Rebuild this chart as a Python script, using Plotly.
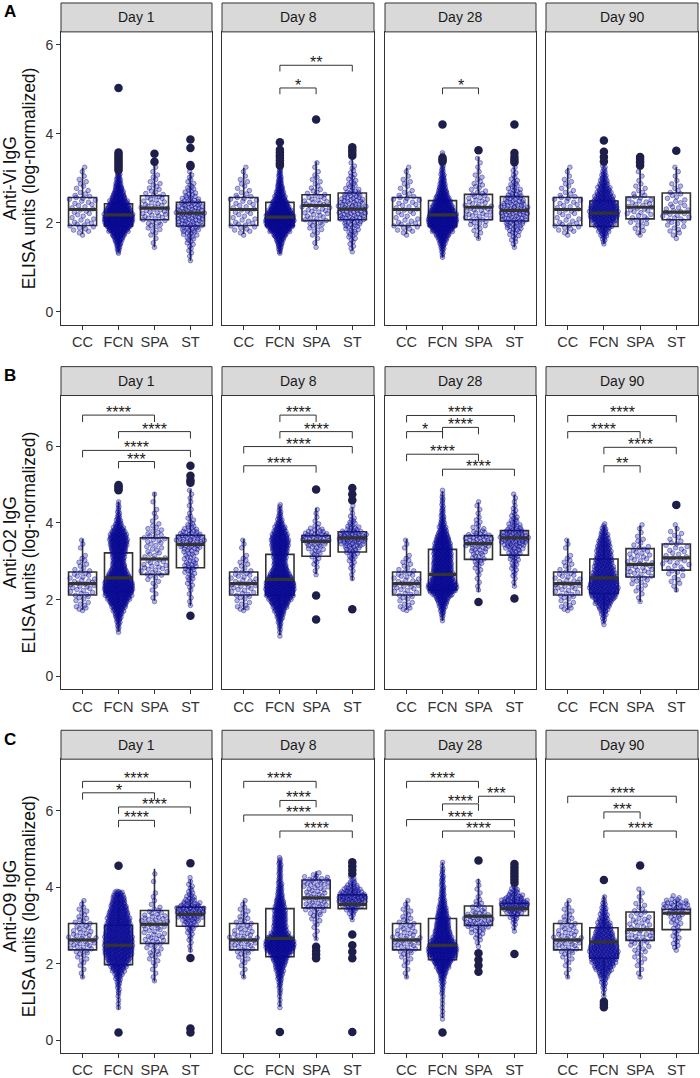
import plotly.graph_objects as go

# ------------------------------------------------------------------ data
DAYS = ["Day 1", "Day 8", "Day 28", "Day 90"]
GROUPS = ["CC", "FCN", "SPA", "ST"]
ANTIGENS = ["Anti-Vi IgG", "Anti-O2 IgG", "Anti-O9 IgG"]
TAGS = ["A", "B", "C"]
Y_TITLE2 = "ELISA units (log-normalized)"
Y_TICKS = [0, 2, 4, 6]
BIN = 0.1  # swarm values are given as point counts per 0.1-unit band

# box stats per day: (lower whisker, q1, median, q3, upper whisker)
# swarm per day: (first band start, counts per 0.1 band)
# ---- Anti-Vi
VI_CC_BOX = [(1.75, 1.94, 2.30, 2.57, 3.23)] * 4
VI_FCN_BOX = [(1.34, 1.93, 2.18, 2.43, 3.15), (1.30, 1.93, 2.13, 2.46, 3.25),
              (1.23, 1.92, 2.18, 2.50, 3.35), (1.53, 1.92, 2.22, 2.49, 3.14)]
VI_SPA_BOX = [(1.45, 2.07, 2.33, 2.61, 3.36), (1.49, 2.05, 2.39, 2.63, 3.38),
              (1.63, 2.07, 2.35, 2.64, 3.48), (1.73, 2.09, 2.35, 2.58, 3.20)]
VI_ST_BOX = [(1.15, 1.93, 2.22, 2.46, 3.14), (1.38, 2.07, 2.31, 2.67, 3.45),
             (1.45, 2.04, 2.28, 2.59, 3.30), (1.68, 2.07, 2.24, 2.67, 3.25)]
VI_CC_SWARM = [(1.7, [2, 4, 5, 4, 3, 4, 4, 4, 5, 3, 2, 2, 2, 1, 1, 1])] * 4
VI_FCN_SWARM = [
    (1.3, [3, 6, 10, 16, 24, 38, 50, 56, 56, 50, 42, 34, 26, 20, 15, 11, 8, 6, 4, 3, 3, 3, 3]),
    (1.3, [3, 6, 10, 16, 26, 42, 56, 62, 58, 48, 38, 30, 22, 16, 12, 9, 7, 5, 4, 3, 3, 3, 2]),
    (1.2, [2, 3, 6, 10, 16, 24, 38, 50, 54, 52, 46, 38, 30, 24, 18, 13, 10, 8, 6, 4, 3, 3, 2, 2]),
    (1.5, [2, 4, 8, 12, 20, 28, 34, 34, 32, 28, 22, 18, 14, 11, 8, 6, 4, 3, 2, 2, 1]),
]
VI_SPA_SWARM = [
    (1.4, [1, 1, 1, 2, 3, 4, 5, 6, 6, 6, 5, 5, 4, 3, 3, 2, 2, 1, 1, 1]),
    (1.4, [1, 1, 1, 2, 3, 4, 5, 5, 6, 6, 6, 5, 4, 3, 2, 2, 2, 1, 1, 1]),
    (1.6, [1, 2, 2, 4, 5, 6, 6, 6, 5, 5, 4, 3, 3, 2, 2, 1, 1, 1, 1]),
    (1.7, [2, 2, 3, 4, 4, 5, 5, 5, 4, 3, 2, 2, 1, 1, 1, 1]),
]
VI_ST_SWARM = [
    (1.1, [1, 1, 2, 2, 3, 4, 6, 8, 10, 11, 12, 12, 11, 9, 7, 5, 4, 3, 2, 2, 1]),
    (1.3, [1, 2, 2, 3, 4, 5, 7, 9, 11, 11, 11, 10, 9, 7, 5, 4, 3, 3, 2, 2, 1]),
    (1.4, [1, 2, 3, 4, 6, 8, 10, 11, 12, 11, 10, 8, 6, 5, 4, 3, 2, 2, 1, 1]),
    (1.6, [1, 2, 3, 3, 4, 5, 5, 4, 3, 3, 3, 2, 2, 1, 1, 1, 1]),
]
VI_CC_OUT = [[]] * 4
VI_FCN_OUT = [[3.18, 3.23, 3.28, 3.33, 3.38, 3.43, 3.48, 3.53, 3.58, 5.03],
              [3.29, 3.34, 3.40, 3.46, 3.52, 3.58, 3.64, 3.81],
              [3.38, 3.42, 3.46, 4.21],
              [3.38, 3.48, 3.60, 3.85]]
VI_SPA_OUT = [[3.37, 3.55], [4.32], [3.63], [3.29, 3.36, 3.42, 3.48]]
VI_ST_OUT = [[3.27, 3.30, 3.68, 3.87], [3.51, 3.57, 3.63, 3.70],
             [3.36, 3.42, 3.48, 3.57, 4.21], [3.62]]
VI_BRACKETS = [[],
               [("FCN", "SPA", 5.03, "*"), ("FCN", "ST", 5.54, "**")],
               [("FCN", "SPA", 5.03, "*")],
               []]

# ---- Anti-O2
O2_CC_BOX = [(1.73, 2.12, 2.42, 2.72, 3.58)] * 4
O2_FCN_BOX = [(1.17, 2.20, 2.57, 3.22, 4.56), (1.07, 2.11, 2.53, 3.18, 4.43),
              (1.45, 2.25, 2.66, 3.31, 4.82), (1.39, 2.16, 2.57, 3.06, 3.93)]
O2_SPA_BOX = [(1.97, 2.66, 3.06, 3.61, 4.80), (2.66, 3.13, 3.52, 3.67, 4.39),
              (2.20, 3.05, 3.46, 3.67, 4.54), (1.94, 2.59, 2.92, 3.33, 3.93)]
O2_ST_BOX = [(1.84, 2.83, 3.44, 3.68, 4.87), (2.50, 3.24, 3.61, 3.77, 4.40),
             (2.35, 3.16, 3.61, 3.80, 4.74), (2.20, 2.77, 3.09, 3.45, 3.91)]
O2_CC_SWARM = [(1.7, [3, 3, 2, 3, 4, 4, 5, 5, 4, 4, 3, 2, 2, 2, 1, 0, 1, 1, 1])] * 4
O2_FCN_SWARM = [
    (1.1, [1, 2, 3, 5, 8, 11, 15, 20, 26, 32, 38, 40, 40, 38, 34, 28, 22, 18, 16, 16, 17, 19,
           22, 24, 25, 24, 20, 14, 9, 6, 4, 3, 2, 2, 1]),
    (1.0, [1, 1, 2, 3, 5, 8, 11, 15, 20, 26, 32, 38, 40, 40, 38, 34, 28, 22, 18, 16, 16, 18,
           20, 22, 24, 24, 22, 18, 14, 10, 6, 4, 3, 2, 2]),
    (1.4, [1, 2, 4, 6, 9, 13, 18, 26, 40, 44, 34, 30, 28, 27, 26, 26, 25, 25, 25, 24, 22, 20,
           16, 12, 9, 7, 5, 4, 3, 3, 2, 2, 2, 1, 1]),
    (1.3, [1, 2, 3, 5, 8, 12, 17, 22, 26, 28, 28, 26, 24, 22, 20, 18, 17, 16, 15, 14, 13, 12,
           10, 8, 6, 4, 2]),
]
O2_SPA_SWARM = [
    (1.9, [1, 1, 1, 1, 1, 2, 2, 4, 5, 5, 4, 4, 3, 3, 3, 3, 4, 4, 3, 3, 2, 1, 1, 1, 1, 0, 1, 0, 1]),
    (2.6, [1, 1, 1, 2, 2, 3, 4, 5, 7, 9, 10, 8, 4, 2, 1, 1, 1, 1]),
    (2.2, [1, 1, 1, 1, 1, 2, 2, 3, 4, 4, 5, 6, 8, 9, 8, 5, 3, 2, 2, 1, 1, 1, 1, 1]),
    (1.9, [1, 1, 1, 2, 2, 3, 4, 4, 5, 5, 4, 4, 4, 4, 3, 2, 2, 1, 1, 1, 1]),
]
O2_ST_SWARM = [
    (1.8, [1, 1, 1, 1, 1, 2, 2, 3, 3, 4, 5, 5, 4, 4, 5, 7, 9, 10, 10, 7, 5, 3, 2, 2, 1, 1, 1, 1, 1, 1, 1]),
    (2.5, [1, 1, 1, 2, 2, 3, 4, 5, 7, 10, 13, 14, 10, 6, 4, 3, 2, 1, 1, 1]),
    (2.3, [1, 1, 1, 2, 2, 3, 3, 4, 5, 6, 8, 11, 13, 14, 11, 7, 5, 4, 3, 2, 2, 1, 1, 1, 1]),
    (2.2, [1, 1, 2, 2, 2, 3, 3, 4, 4, 3, 3, 3, 3, 2, 2, 2, 1, 1]),
]
O2_CC_OUT = [[]] * 4
O2_FCN_OUT = [[4.85, 4.90, 4.95, 4.99], [], [], []]
O2_SPA_OUT = [[], [4.87, 2.11, 1.48], [1.94], []]
O2_ST_OUT = [[5.05, 5.11, 5.23, 5.49, 1.58], [4.59, 4.75, 4.91, 1.75], [2.03], [4.47]]
O2_BRACKETS = [
    [("CC", "SPA", 6.81, "****"), ("FCN", "ST", 6.38, "****"),
     ("CC", "ST", 5.89, "****"), ("FCN", "SPA", 5.60, "***")],
    [("FCN", "SPA", 6.81, "****"), ("FCN", "ST", 6.38, "****"),
     ("CC", "ST", 5.99, "****"), ("CC", "SPA", 5.49, "****")],
    [("CC", "ST", 6.80, "****"), ("FCN", "SPA", 6.49, "****"), ("CC", "FCN", 6.38, "*"),
     ("CC", "SPA", 5.79, "****"), ("FCN", "ST", 5.40, "****")],
    [("CC", "ST", 6.80, "****"), ("CC", "SPA", 6.38, "****"),
     ("FCN", "ST", 5.97, "****"), ("FCN", "SPA", 5.49, "**")],
]

# ---- Anti-O9
O9_CC_BOX = [(1.62, 2.36, 2.62, 3.05, 3.65)] * 4
O9_FCN_BOX = [(0.80, 1.97, 2.48, 3.00, 3.78), (0.87, 2.18, 2.66, 3.44, 4.70),
              (0.58, 2.10, 2.48, 3.18, 4.65), (1.14, 2.14, 2.57, 2.94, 3.78)]
O9_SPA_BOX = [(1.53, 2.53, 3.03, 3.39, 4.48), (2.62, 3.46, 3.72, 4.19, 4.42),
              (2.48, 3.00, 3.24, 3.51, 4.22), (1.66, 2.61, 2.89, 3.35, 3.91)]
O9_ST_BOX = [(2.30, 2.98, 3.29, 3.48, 4.19), (3.14, 3.44, 3.55, 3.80, 4.13),
             (2.87, 3.26, 3.44, 3.58, 4.09), (2.38, 2.89, 3.32, 3.42, 3.65)]
O9_CC_SWARM = [(1.6, [1, 1, 1, 1, 2, 2, 3, 4, 5, 6, 6, 5, 4, 4, 3, 3, 2, 2, 2, 1, 1])] * 4
O9_FCN_SWARM = [
    (0.8, [1, 1, 1, 1, 2, 2, 3, 4, 6, 9, 13, 18, 22, 26, 28, 30, 30, 30, 29, 28, 27, 26, 25,
           24, 22, 20, 18, 16, 14, 12, 10]),
    (0.8, [1, 1, 1, 1, 2, 2, 3, 4, 6, 8, 10, 13, 16, 20, 26, 36, 40, 40, 36, 22, 18, 17, 16,
           16, 16, 15, 14, 12, 10, 8, 6, 6, 5, 4, 3, 3, 3, 3, 3, 2]),
    (0.5, [1, 1, 1, 1, 1, 1, 1, 2, 2, 3, 4, 6, 9, 13, 18, 24, 30, 36, 40, 38, 32, 26, 22, 20,
           18, 17, 16, 14, 12, 10, 8, 6, 5, 4, 4, 3, 3, 3, 2, 2, 1, 1]),
    (1.1, [1, 1, 2, 3, 4, 6, 9, 13, 17, 20, 22, 24, 24, 22, 20, 18, 16, 14, 12, 10, 8, 6, 5,
           4, 3, 2, 1]),
]
O9_SPA_SWARM = [
    (1.5, [1, 1, 1, 1, 1, 2, 2, 3, 3, 3, 4, 5, 4, 4, 5, 6, 6, 5, 4, 2, 1, 1, 1, 1, 0, 0, 1, 0, 1, 0]),
    (2.6, [1, 1, 1, 1, 2, 2, 3, 4, 5, 6, 5, 5, 5, 5, 6, 7, 6, 2]),
    (2.4, [1, 1, 2, 3, 4, 6, 8, 8, 7, 5, 3, 3, 2, 1, 1, 1, 1, 1]),
    (1.6, [1, 1, 1, 1, 2, 2, 2, 3, 3, 4, 5, 5, 4, 4, 4, 4, 3, 3, 2, 2, 1, 1, 1, 1]),
]
O9_ST_SWARM = [
    (2.3, [1, 1, 1, 2, 2, 3, 4, 6, 9, 12, 14, 14, 10, 6, 4, 3, 2, 2, 1, 1]),
    (3.1, [1, 2, 4, 7, 12, 16, 18, 14, 10, 6, 4, 2]),
    (2.8, [1, 1, 2, 3, 5, 9, 14, 18, 16, 10, 6, 4, 2, 1]),
    (2.3, [1, 2, 2, 2, 2, 2, 2, 3, 3, 4, 5, 7, 9, 6, 2]),
]
O9_CC_OUT = [[]] * 4
O9_FCN_OUT = [[4.56, 0.20], [0.21], [0.20], [4.19, 1.00, 0.93, 0.86]]
O9_SPA_OUT = [[], [2.44, 2.34, 2.24, 2.14], [4.70, 2.27, 2.10, 1.95, 1.79], [4.57]]
O9_ST_OUT = [[4.63, 2.15, 0.30, 0.20],
             [4.65, 4.55, 4.45, 4.35, 2.76, 2.48, 2.31, 2.14, 0.21],
             [4.61, 4.52, 4.44, 4.36, 4.28, 4.20, 4.12, 2.25], []]
O9_BRACKETS = [
    [("CC", "ST", 6.77, "****"), ("CC", "SPA", 6.47, "*"),
     ("FCN", "ST", 6.10, "****"), ("FCN", "SPA", 5.75, "****")],
    [("CC", "SPA", 6.77, "****"), ("FCN", "SPA", 6.27, "****"),
     ("CC", "ST", 5.89, "****"), ("FCN", "ST", 5.47, "****")],
    [("CC", "SPA", 6.77, "****"), ("SPA", "ST", 6.38, "***"), ("FCN", "SPA", 6.18, "****"),
     ("CC", "ST", 5.77, "****"), ("FCN", "ST", 5.47, "****")],
    [("CC", "ST", 6.38, "****"), ("FCN", "SPA", 5.97, "***"), ("FCN", "ST", 5.47, "****")],
]

ROWS = [
    dict(box=[VI_CC_BOX, VI_FCN_BOX, VI_SPA_BOX, VI_ST_BOX],
         swarm=[VI_CC_SWARM, VI_FCN_SWARM, VI_SPA_SWARM, VI_ST_SWARM],
         out=[VI_CC_OUT, VI_FCN_OUT, VI_SPA_OUT, VI_ST_OUT], br=VI_BRACKETS),
    dict(box=[O2_CC_BOX, O2_FCN_BOX, O2_SPA_BOX, O2_ST_BOX],
         swarm=[O2_CC_SWARM, O2_FCN_SWARM, O2_SPA_SWARM, O2_ST_SWARM],
         out=[O2_CC_OUT, O2_FCN_OUT, O2_SPA_OUT, O2_ST_OUT], br=O2_BRACKETS),
    dict(box=[O9_CC_BOX, O9_FCN_BOX, O9_SPA_BOX, O9_ST_BOX],
         swarm=[O9_CC_SWARM, O9_FCN_SWARM, O9_SPA_SWARM, O9_ST_SWARM],
         out=[O9_CC_OUT, O9_FCN_OUT, O9_SPA_OUT, O9_ST_OUT], br=O9_BRACKETS),
]

# ------------------------------------------------------------------ layout constants
W, H = 700, 1078
COL_PX = [(61, 212), (222, 374), (385, 536), (546, 698)]
ROW_PX = [(3, 32, 326), (368, 397, 692), (733, 762, 1057)]  # strip top, panel top, panel bottom
Y_RANGE = [(-0.29, 6.29), (-0.34, 7.32), (-0.34, 7.35)]
TIP = [0.14, 0.18, 0.18]
BOX_W = 0.78
SWARM_HALF = 0.4
FONT = "Liberation Sans, Arial, sans-serif"
INK = "#333333"
POS = {g: i + 1 for i, g in enumerate(GROUPS)}


def vdc(n, base=2):
    v, denom = 0.0, 1.0
    while n:
        denom *= base
        n, r = divmod(n, base)
        v += r / denom
    return v


def swarm_xy(start, counts, pos):
    """quasirandom (van der Corput) layout of the counted points, width ~ local density"""
    pad = [0] + list(counts) + [0]
    dens = [(pad[i] + 2 * pad[i + 1] + pad[i + 2]) / 4 for i in range(len(counts))]
    dmax = max(dens) or 1
    xs, ys, rank = [], [], 0
    for i, n in enumerate(counts):
        lo = start + i * BIN
        for k in range(n):
            rank += 1
            ys.append(lo + (k + 0.5) / n * BIN)
            xs.append(pos + (vdc(rank) - 0.5) * 2 * SWARM_HALF * dens[i] / dmax)
    return xs, ys


fig = go.Figure()
annotations, shapes = [], []

for r, row in enumerate(ROWS):
    st_top, p_top, p_bot = ROW_PX[r]
    for c in range(4):
        idx = r * 4 + c + 1
        sfx = "" if idx == 1 else str(idx)
        xr, yr = "x" + sfx, "y" + sfx
        x0, x1 = COL_PX[c]

        # swarm
        sx, sy = [], []
        for g in range(4):
            start, counts = row["swarm"][g][c]
            xs, ys = swarm_xy(start, counts, POS[GROUPS[g]])
            sx += xs
            sy += ys
        fig.add_trace(go.Scatter(
            x=sx, y=sy, mode="markers", xaxis=xr, yaxis=yr, hoverinfo="skip", showlegend=False,
            marker=dict(size=4.6, color="rgba(30,30,175,0.33)",
                        line=dict(width=0.7, color="rgba(0,0,130,0.55)"))))

        # boxes
        stats = [row["box"][g][c] for g in range(4)]
        fig.add_trace(go.Box(
            x=[POS[g] for g in GROUPS], lowerfence=[s[0] for s in stats], q1=[s[1] for s in stats],
            median=[s[2] for s in stats], q3=[s[3] for s in stats], upperfence=[s[4] for s in stats],
            width=BOX_W, whiskerwidth=0, boxpoints=False, fillcolor="rgba(0,0,0,0)",
            line=dict(color=INK, width=1.6), xaxis=xr, yaxis=yr, hoverinfo="skip", showlegend=False))
        mx, my = [], []
        for g, s in zip(GROUPS, stats):
            mx += [POS[g] - BOX_W / 2, POS[g] + BOX_W / 2, None]
            my += [s[2], s[2], None]
        fig.add_trace(go.Scatter(x=mx, y=my, mode="lines", line=dict(color=INK, width=3.2),
                                 xaxis=xr, yaxis=yr, hoverinfo="skip", showlegend=False))

        # outliers
        ox, oy = [], []
        for g in range(4):
            for v in row["out"][g][c]:
                ox.append(POS[GROUPS[g]])
                oy.append(v)
        if ox:
            fig.add_trace(go.Scatter(x=ox, y=oy, mode="markers", xaxis=xr, yaxis=yr,
                                     hoverinfo="skip", showlegend=False,
                                     marker=dict(size=8.5, color="rgb(30,30,75)")))

        # significance brackets
        bx, by = [], []
        for g1, g2, yv, lab in row["br"][c]:
            p1, p2 = POS[g1], POS[g2]
            bx += [p1, p1, p2, p2, None]
            by += [yv - TIP[r], yv, yv, yv - TIP[r], None]
            annotations.append(dict(x=(p1 + p2) / 2, y=yv, xref=xr, yref=yr, text=lab,
                                    showarrow=False, yanchor="bottom", yshift=-8,
                                    font=dict(family=FONT, size=16, color="#1a1a1a")))
        if bx:
            fig.add_trace(go.Scatter(x=bx, y=by, mode="lines", line=dict(color=INK, width=1),
                                     xaxis=xr, yaxis=yr, hoverinfo="skip", showlegend=False))

        # axes
        fig.layout["xaxis" + sfx] = dict(
            domain=[x0 / W, x1 / W], anchor=yr, range=[0.4, 4.6], tickvals=[1, 2, 3, 4],
            ticktext=GROUPS, ticks="outside", ticklen=4, tickcolor=INK, showline=True,
            mirror=True, linecolor=INK, linewidth=1, showgrid=False, zeroline=False,
            tickfont=dict(family=FONT, size=14.5, color="#333333"), fixedrange=True)
        fig.layout["yaxis" + sfx] = dict(
            domain=[1 - p_bot / H, 1 - p_top / H], anchor=xr, range=list(Y_RANGE[r]),
            tickvals=Y_TICKS, showticklabels=(c == 0), ticks="outside" if c == 0 else "",
            ticklen=4, tickcolor=INK, showline=True, mirror=True, linecolor=INK, linewidth=1,
            showgrid=False, zeroline=False,
            tickfont=dict(family=FONT, size=14, color="#333333"), fixedrange=True)

        # strip
        shapes.append(dict(type="rect", xref="paper", yref="paper", x0=x0 / W, x1=x1 / W,
                           y0=1 - p_top / H, y1=1 - st_top / H, fillcolor="#d9d9d9",
                           line=dict(color=INK, width=1), layer="above"))
        annotations.append(dict(x=(x0 + x1) / 2 / W, y=1 - (st_top + p_top) / 2 / H,
                                xref="paper", yref="paper", text=DAYS[c], showarrow=False,
                                xanchor="center", yanchor="middle",
                                font=dict(family=FONT, size=14, color="#1a1a1a")))

    # row titles and tag
    yc = 1 - (p_top + p_bot) / 2 / H
    annotations.append(dict(x=10 / W, y=yc, xref="paper", yref="paper", text=ANTIGENS[r],
                            textangle=-90, showarrow=False, xanchor="center", yanchor="middle",
                            font=dict(family=FONT, size=17.5, color="#111111")))
    annotations.append(dict(x=29 / W, y=yc, xref="paper", yref="paper", text=Y_TITLE2,
                            textangle=-90, showarrow=False, xanchor="center", yanchor="middle",
                            font=dict(family=FONT, size=17.5, color="#111111")))
    annotations.append(dict(x=10 / W, y=1 - (st_top + 9) / H, xref="paper", yref="paper",
                            text="<b>" + TAGS[r] + "</b>", showarrow=False,
                            xanchor="center", yanchor="middle",
                            font=dict(family=FONT, size=17, color="#000000")))

fig.update_layout(width=W, height=H, margin=dict(l=0, r=0, t=0, b=0),
                  paper_bgcolor="white", plot_bgcolor="white", showlegend=False,
                  annotations=annotations, shapes=shapes)
fig.write_html("out.html", config={"displayModeBar": False},
               post_script="document.body.style.margin='0';document.body.style.overflow='hidden';")
